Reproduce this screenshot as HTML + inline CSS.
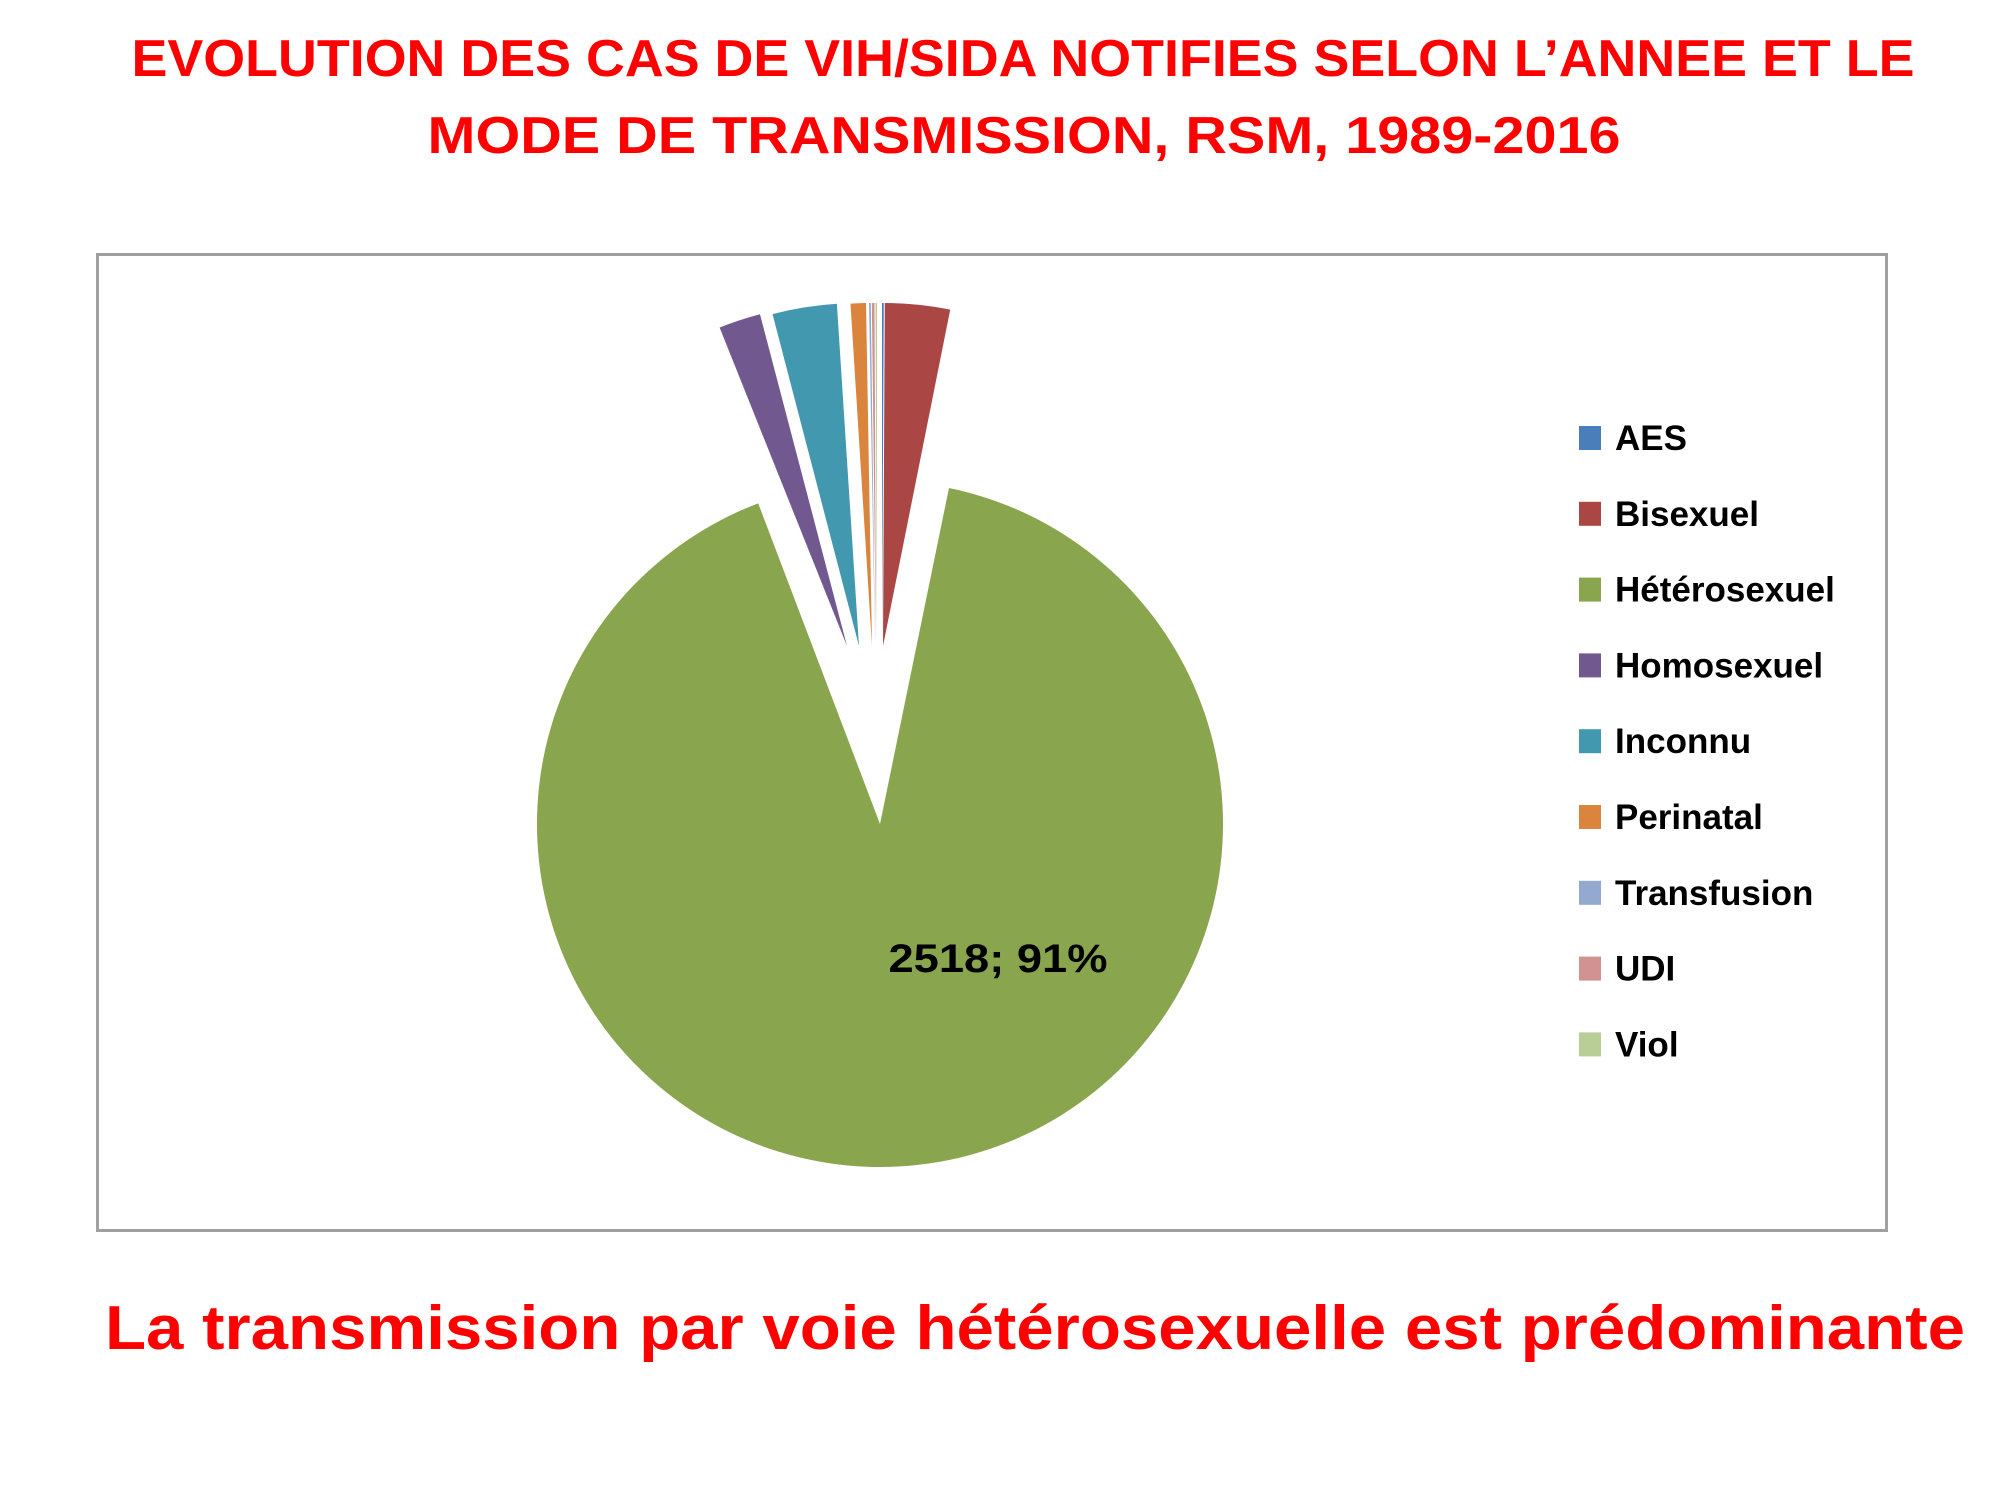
<!DOCTYPE html>
<html><head><meta charset="utf-8"><style>
html,body{margin:0;padding:0;background:#fff;}
svg{display:block;}
text{font-family:"Liberation Sans",sans-serif;font-weight:bold;}
</style></head><body>
<svg id="s" width="2000" height="1500" viewBox="0 0 2000 1500" xmlns="http://www.w3.org/2000/svg">
<text x="1023" y="76" font-size="52" fill="#ff0000" text-anchor="middle" textLength="1783" lengthAdjust="spacingAndGlyphs">EVOLUTION DES CAS DE VIH/SIDA NOTIFIES SELON L’ANNEE ET LE</text>
<text x="1024" y="153" font-size="52" fill="#ff0000" text-anchor="middle" textLength="1193" lengthAdjust="spacingAndGlyphs">MODE DE TRANSMISSION, RSM, 1989-2016</text>
<rect x="97.5" y="254.5" width="1789" height="976" fill="#fff" stroke="#a0a0a0" stroke-width="3"/>
<g id="pie"></g>
<text x="998" y="972" font-size="40" fill="#000" text-anchor="middle" textLength="219" lengthAdjust="spacingAndGlyphs">2518; 91%</text>
<g id="leg"></g>
<text x="1035" y="1349" font-size="62" fill="#ff0000" text-anchor="middle" textLength="1860" lengthAdjust="spacingAndGlyphs">La transmission par voie hétérosexuelle est prédominante</text>
</svg>
<script>
var ns="http://www.w3.org/2000/svg";
var cx=880,cy=824,r=343;
var sl=[
["AES","#4a7ebb",0,0.3,2],
["Bisexuel","#aa4643",0.3,11.3,3],
["Hétérosexuel","#89a54e",11.6,339.2,null],
["Homosexuel","#71588f",338.2,345.3,-33],
["Inconnu","#4198af",345.4,356.3,-21],
["Perinatal","#db843d",356.4,359.0,-8],
["Transfusion","#93a9cf",359.0,359.3,-5],
["UDI","#d19392",359.3,359.75,-4],
["Viol","#b9cd96",359.75,360,-3]];
function pt(x,y,a,rr){var t=a*Math.PI/180;return [x+rr*Math.sin(t),y-rr*Math.cos(t)];}
var g=document.getElementById("pie");
sl.forEach(function(s){
 var x=cx,y=cy;
 if(s[4]!==null){x=cx+s[4];y=cy-178;}
 var a=pt(x,y,s[2],r),b=pt(x,y,s[3],r);
 var large=(s[3]-s[2])>180?1:0;
 var e=document.createElementNS(ns,"path");
 e.setAttribute("d","M"+x+","+y+" L"+a[0]+","+a[1]+" A"+r+","+r+" 0 "+large+" 1 "+b[0]+","+b[1]+" Z");
 e.setAttribute("fill",s[1]);
 g.appendChild(e);
});
var lg=document.getElementById("leg");
sl.forEach(function(s,i){
 var y=426+i*75.8;
 var rc=document.createElementNS(ns,"rect");
 rc.setAttribute("x",1579);rc.setAttribute("y",y);rc.setAttribute("width",22);rc.setAttribute("height",24);rc.setAttribute("fill",s[1]);
 lg.appendChild(rc);
 var t=document.createElementNS(ns,"text");
 t.setAttribute("x",1615);t.setAttribute("y",y+24);t.setAttribute("font-size",35);t.setAttribute("fill","#000");
 t.textContent=s[0];lg.appendChild(t);
});
</script>
</body></html>
